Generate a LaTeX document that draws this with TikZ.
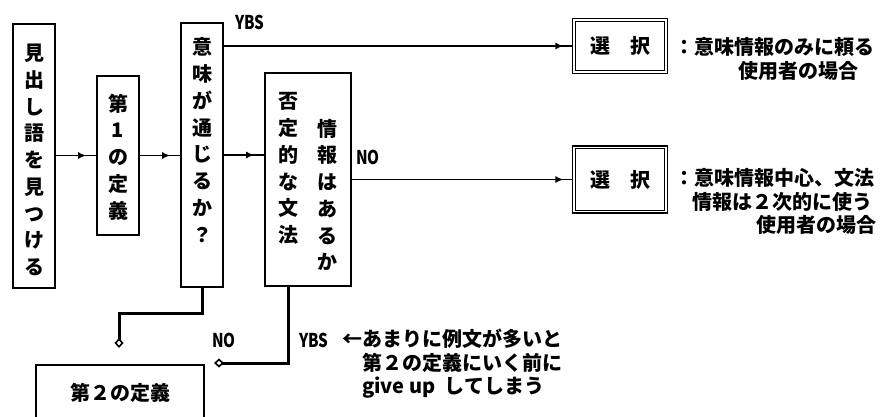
\documentclass[tikz,border=0pt]{standalone}
\usepackage{graphicx}
\usepackage{fontspec}
\setmainfont{Noto Sans CJK JP}
\newcommand\narrowtxt[1]{\scalebox{0.8}[1]{#1}}
\usetikzlibrary{arrows.meta,decorations.markings}
\tikzset{
 box/.style={draw, line width=1.6pt, inner sep=0pt},
 selbox/.style={draw, double, double distance=1.8pt, line width=1.1pt, inner sep=0pt, minimum width=92pt, minimum height=52pt, font=\fontsize{20}{24}\selectfont\bfseries},
 vtext/.style={align=center, inner sep=0pt, font=\fontsize{20}{26.75}\selectfont\bfseries},
 side/.style={anchor=west, inner sep=0pt, font=\fontsize{20}{24}\selectfont\bfseries},
 lbl/.style={inner sep=0pt, font=\fontsize{19}{22}\selectfont\bfseries},
 flow/.style={line width=1.6pt, postaction={decorate}, decoration={markings, mark=at position -10pt with {\arrow{Latex[length=8pt,width=7pt]}}}},
 back/.style={line width=3pt, -{Diamond[open,length=10pt,width=9pt,line width=1.6pt]}},
}
\begin{document}
\begin{tikzpicture}[x=1pt,y=-1pt]
\useasboundingbox (0,0) rectangle (886,417);
% boxes
\node[box, minimum width=42pt, minimum height=264pt] (b1) at (34,156) {};
\node[vtext] (t1) at (34,160) {見\\出\\し\\語\\を\\見\\つ\\け\\る};
\node[box, minimum width=42pt, minimum height=159pt] (b2) at (118,155.5) {};
\node[vtext] (t2) at (118,157) {第\\1\\の\\定\\義};
\node[box, minimum width=42pt, minimum height=264pt] (b3) at (202,155) {};
\node[vtext] (t3) at (202,140) {意\\味\\が\\通\\じ\\る\\か\\？};
\node[box, minimum width=86pt, minimum height=213pt] (b4) at (308,179.5) {};
\node[vtext] (t4a) at (288,168.5) {否\\定\\的\\な\\文\\法};
\node[vtext] (t4b) at (327,195) {情\\報\\は\\あ\\る\\か};
\node[selbox] (s1) at (620,46) {選　択};
\node[selbox, minimum height=64pt] (s2) at (620,179.5) {選　択};
\node[box, minimum width=168pt, minimum height=76pt] (d2) at (120,403) {};
\node[inner sep=0pt, font=\fontsize{20}{24}\selectfont\bfseries] (t5) at (120,393) {第２の定義};
% side texts
\node[side] (s1a) at (674,47) {：意味情報のみに頼る};
\node[side] (s1b) at (738,71) {使用者の場合};
\node[side] (s2a) at (674,178) {：意味情報中心、文法};
\node[side] (s2b) at (692,202) {情報は２次的に使う};
\node[side] (s2c) at (756,225) {使用者の場合};
% labels
\node[lbl] (yes1) at (250,22) {\narrowtxt{YBS}};
\node[lbl] (no1) at (368,157) {\narrowtxt{NO}};
\node[lbl] (no2) at (224,340) {\narrowtxt{NO}};
\node[lbl] (yes2) at (314,340) {\narrowtxt{YBS}};
\node[side] (n1) at (342,339) {←あまりに例文が多いと};
\node[side] (n2) at (362,363) {第２の定義にいく前に};
\node[side] (n3) at (362,388) {give up\hspace{9pt}してしまう};
% connectors
\draw[flow] (b1.east |- b2.west) -- (b2.west);
\draw[flow] (b2.east) -- (b2.east -| b3.west);
\draw[flow] (b3.east) -- (b3.east -| b4.west);
\draw[flow] (b3.east |- s1.west) -- (s1.west);
\draw[flow] (b4.east |- s2.west) -- (s2.west);
\coordinate (tip1) at (119,348);
\coordinate (tip2) at (214,363);
\draw[back] (b3.south) -- ++(0,26) -| (tip1);
\draw[back] (b4.south -| t4a) |- (tip2);
\end{tikzpicture}
\end{document}
